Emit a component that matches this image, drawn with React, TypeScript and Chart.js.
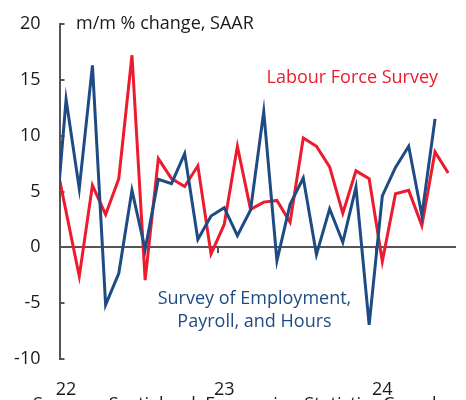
import React, { useEffect, useRef } from 'react';
import { Chart, registerables } from 'chart.js';

Chart.register(...registerables);

// Months: Dec 2021 (only partially visible, clipped at the axis) to Jun 2024
const months = [
  '2021-12',
  '2022-01', '2022-02', '2022-03', '2022-04', '2022-05', '2022-06',
  '2022-07', '2022-08', '2022-09', '2022-10', '2022-11', '2022-12',
  '2023-01', '2023-02', '2023-03', '2023-04', '2023-05', '2023-06',
  '2023-07', '2023-08', '2023-09', '2023-10', '2023-11', '2023-12',
  '2024-01', '2024-02', '2024-03', '2024-04', '2024-05', '2024-06',
];

// Labour Force Survey, m/m % change SAAR
const lfs = [
  9.0,
  3.2, -2.6, 5.55, 2.94, 6.15, 17.2, -2.93, 7.95, 6.15, 5.45, 7.3, -0.6,
  2.05, 9.05, 3.4, 4.05, 4.2, 2.25, 9.8, 9.05, 7.2, 3.05, 6.85, 6.15,
  -1.25, 4.8, 5.1, 1.95, 8.55, 6.65,
];

// Survey of Employment, Payroll, and Hours, m/m % change SAAR
const seph = [
  -1.0,
  13.25, 5.25, 16.3, -5.15, -2.33, 5.1, -0.2, 6.1, 5.7, 8.4, 0.7, 2.8,
  3.55, 1.05, 3.35, 12.15, -1.2, 3.85, 6.2, -0.65, 3.45, 0.45, 5.4, -6.95,
  4.6, 7.15, 9.05, 2.85, 11.5, null,
];

const yearLabels: Record<string, string> = {
  '2022-01': '22',
  '2023-01': '23',
  '2024-01': '24',
};

const yMin = -10;
const yMax = 20;
const yStep = 5;

const RED = '#EC1B2E';
const BLUE = '#1F4B84';
const AXIS = '#555555';
const TEXT = '#1a1a1a';
const FONT = "'Open Sans', sans-serif";

export default function App() {
  const canvasRef = useRef<HTMLCanvasElement | null>(null);

  useEffect(() => {
    if (!canvasRef.current) return;
    const chart = new Chart(canvasRef.current, {
      type: 'line',
      data: {
        labels: months,
        datasets: [
          {
            label: 'Labour Force Survey',
            data: lfs,
            borderColor: RED,
            borderWidth: 3,
            pointRadius: 0,
            tension: 0,
            order: 2,
          },
          {
            label: 'Survey of Employment, Payroll, and Hours',
            data: seph,
            borderColor: BLUE,
            borderWidth: 3,
            pointRadius: 0,
            tension: 0,
            order: 1,
          },
        ],
      },
      options: {
        animation: false,
        responsive: true,
        maintainAspectRatio: false,
        layout: { padding: { left: 0, right: 11.2, top: 24, bottom: 0 } },
        plugins: {
          legend: { display: false },
          tooltip: { enabled: false },
        },
        scales: {
          x: {
            type: 'category',
            min: 1,
            offset: true,
            grid: { display: false, drawTicks: false },
            border: { display: false },
            ticks: {
              autoSkip: false,
              maxRotation: 0,
              padding: 20,
              color: TEXT,
              font: { family: FONT, size: 18 },
              callback: (value: any) => yearLabels[months[value as number]] ?? '',
            },
            afterFit: (scale: any) => {
              scale.height = 41;
              scale.paddingLeft = 0;
              scale.paddingRight = 0;
            },
          },
          x2: {
            type: 'category',
            position: { y: 0 },
            min: 1,
            offset: true,
            grid: {
              offset: true,
              drawOnChartArea: false,
              drawTicks: true,
              tickLength: 5,
              lineWidth: 2,
              color: (ctx: any) =>
                ctx.tick && yearLabels[months[ctx.tick.value]] ? AXIS : 'rgba(0,0,0,0)',
            },
            border: { display: true, color: AXIS, width: 2 },
            ticks: {
              autoSkip: false,
              maxRotation: 0,
              display: true,
              font: { family: FONT, size: 1 },
              callback: () => '',
            },
            afterFit: (scale: any) => {
              scale.paddingLeft = 0;
              scale.paddingRight = 0;
            },
          },
          y: {
            min: yMin,
            max: yMax,
            grid: {
              drawOnChartArea: false,
              drawTicks: true,
              tickLength: -5,
              lineWidth: 2,
              color: AXIS,
            },
            border: { display: true, color: AXIS, width: 2 },
            ticks: {
              stepSize: yStep,
              padding: 24,
              color: TEXT,
              font: { family: FONT, size: 18 },
            },
            afterFit: (scale: any) => {
              scale.width = 59.5;
              scale.paddingTop = 0;
              scale.paddingBottom = 0;
            },
          },
        },
      },
    });
    return () => chart.destroy();
  }, []);

  const textBase: React.CSSProperties = {
    position: 'absolute',
    fontFamily: FONT,
    fontSize: 18,
    lineHeight: '18px',
    whiteSpace: 'nowrap',
    margin: 0,
  };

  return (
    <div
      style={{
        position: 'absolute',
        left: 0,
        top: 0,
        width: 466,
        height: 400,
        overflow: 'hidden',
        background: '#ffffff',
      }}
    >
      <canvas ref={canvasRef} />
      <div style={{ ...textBase, left: 76, top: 13, color: TEXT }}>m/m % change, SAAR</div>
      <div style={{ ...textBase, left: 266.5, top: 67, color: RED }}>Labour Force Survey</div>
      <div
        style={{
          ...textBase,
          left: 154.5,
          width: 200,
          top: 286.4,
          lineHeight: '23px',
          textAlign: 'center',
          color: BLUE,
        }}
      >
        Survey of Employment,
        <br />
        Payroll, and Hours
      </div>
      <div style={{ ...textBase, left: 33, top: 394, color: TEXT }}>
        Sources: Scotiabank Economics, Statistics Canada.
      </div>
    </div>
  );
}
